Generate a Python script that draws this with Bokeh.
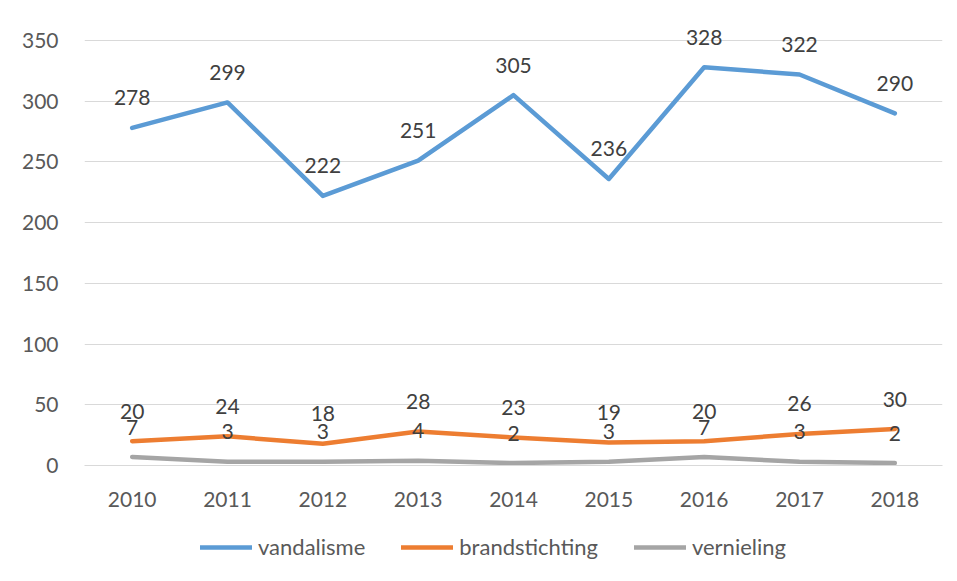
from bokeh.plotting import figure
from bokeh.layouts import column
from bokeh.models import (ColumnDataSource, FactorRange, Range1d, FixedTicker, LabelSet,
                          Legend, LegendItem)
from bokeh.core.properties import value
from bokeh.embed import file_html
from bokeh.resources import INLINE

years = ["2010", "2011", "2012", "2013", "2014", "2015", "2016", "2017", "2018"]
vandalisme = [278, 299, 222, 251, 305, 236, 328, 322, 290]
brandstichting = [20, 24, 18, 28, 23, 19, 20, 26, 30]
vernieling = [7, 3, 3, 4, 2, 3, 7, 3, 2]
y_ticks = [0, 50, 100, 150, 200, 250, 300, 350]

series = [
    ("vandalisme", vandalisme, "#5B9BD5"),
    ("brandstichting", brandstichting, "#ED7D31"),
    ("vernieling", vernieling, "#A5A5A5"),
]

FONT = "Lato"
TXT = "#595959"

p = figure(width=950, height=515, x_range=FactorRange(*years), y_range=Range1d(0, 370.6),
           output_backend="svg", toolbar_location=None,
           min_border_left=84, min_border_right=8, min_border_top=15, min_border_bottom=50)
p.outline_line_color = None
p.background_fill_color = "white"
p.border_fill_color = "white"

p.xgrid.grid_line_color = None
p.ygrid.grid_line_color = "#D9D9D9"
p.ygrid.grid_line_width = 1
p.yaxis.ticker = FixedTicker(ticks=y_ticks)
p.yaxis.axis_line_color = None
p.yaxis.major_tick_line_color = None
p.yaxis.minor_tick_line_color = None
p.yaxis.major_label_standoff = 20
p.xaxis.axis_line_color = "#D9D9D9"
p.xaxis.major_tick_line_color = None
p.xaxis.minor_tick_line_color = None
p.xaxis.major_label_standoff = 20
for ax in (p.xaxis[0], p.yaxis[0]):
    ax.major_label_text_font = FONT
    ax.major_label_text_font_size = "21px"
    ax.major_label_text_color = TXT

# legend strip below the chart (its own ranges keep the series lines out of view)
pl = figure(width=950, height=60, x_range=Range1d(0, 1), y_range=Range1d(0, 1),
            output_backend="svg", toolbar_location=None,
            x_axis_location=None, y_axis_location=None,
            min_border_left=84, min_border_right=8, min_border_top=0, min_border_bottom=0)
pl.outline_line_color = None
pl.xgrid.grid_line_color = None
pl.ygrid.grid_line_color = None
pl.border_fill_color = "white"

items = []
for name, vals, color in series:
    src = ColumnDataSource(dict(x=years, y=vals, t=[str(v) for v in vals]))
    p.line("x", "y", source=src, line_color=color, line_width=4.5, line_cap="round", line_join="round")
    lab = LabelSet(x="x", y="y", text="t", source=src, y_offset=30, text_align="center",
                   text_baseline="middle", text_font=value(FONT), text_font_size=value("21px"),
                   text_color="#404040")
    p.add_layout(lab)
    rl = pl.line(x=list(range(len(vals))), y=vals, line_color=color, line_width=4.5, line_cap="round")
    items.append(LegendItem(label=name, renderers=[rl]))

legend = Legend(items=items, orientation="horizontal", location=(116, 15),
                label_text_font=FONT, label_text_font_size="22px", label_text_color=TXT,
                glyph_width=52, glyph_height=12, spacing=36, label_standoff=6,
                border_line_color=None, background_fill_alpha=0, padding=4, margin=0)
pl.add_layout(legend)

open("out.html", "w").write(file_html(column(p, pl, spacing=0), INLINE))
